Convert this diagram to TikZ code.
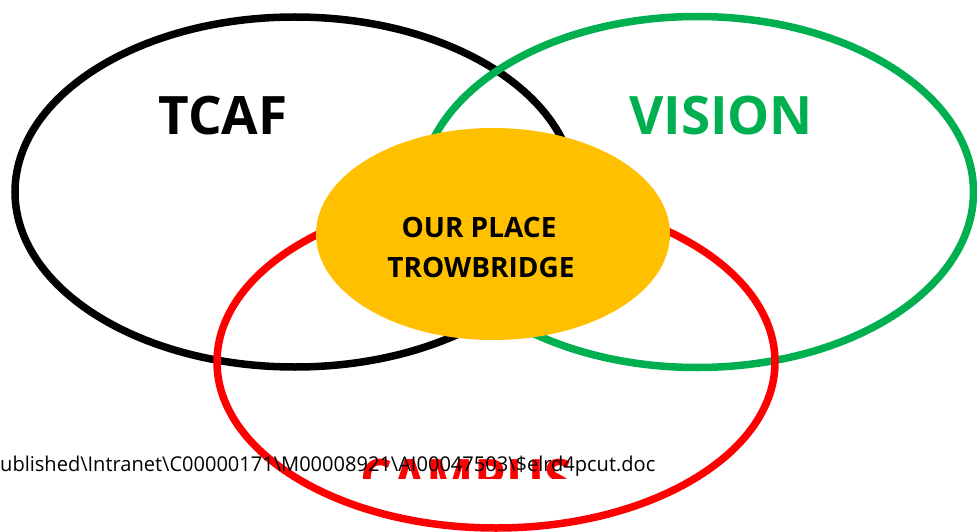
\documentclass[tikz,border=0pt]{standalone}
\usepackage{fontspec}
\setmainfont{Open Sans}
\usetikzlibrary{shapes.geometric}
\definecolor{vgreen}{HTML}{00B050}
\definecolor{vyellow}{HTML}{FFC000}
\definecolor{vred}{HTML}{FF0000}
\begin{document}
\begin{tikzpicture}[x=1pt,y=-1pt,
  ring/.style={ellipse, draw, line width=7.5pt, inner sep=0pt},
  bigword/.style={font=\fontsize{53}{60}\selectfont\bfseries, inner sep=0pt, anchor=base},
  placeword/.style={font=\fontsize{28}{34}\selectfont\bfseries, inner sep=0pt, anchor=base, text=black},
  pathword/.style={font=\fontsize{21}{24}\selectfont, inner sep=0pt, anchor=base west, text=black}]
\useasboundingbox (0,0) rectangle (977,532);
\fill[white] (0,0) rectangle (977,532);
\node[ring, draw=black, minimum width=560pt, minimum height=350pt] (tcafring) at (295,192) {};
\node[ring, draw=vgreen, minimum width=553pt, minimum height=351pt] (visionring) at (697,192) {};
\node[ring, draw=vred, minimum width=558pt, minimum height=332pt] (campusring) at (496,362) {};
\node[ellipse, fill=vyellow, inner sep=0pt, minimum width=354pt, minimum height=212pt] (placering) at (493,234) {};
\node[bigword, text=black] (tcaf) at (223,135) {TCAF};
\node[bigword, text=vgreen] (vision) at (721,135) {VISION};
\node[placeword] (placeone) at (479,237) {OUR PLACE};
\node[placeword] (placetwo) at (481,277) {TROWBRIDGE};
\begin{scope}
\clip (0,0) rectangle (977,478);
\node[bigword, text=vred] (campus) at (466,497) {\scalebox{0.95}[1]{CAMPUS}};
\end{scope}
\node[pathword] (docpath) at (0,471) {\resizebox{655pt}{15.5pt}{ublished\textbackslash Intranet\textbackslash C00000171\textbackslash M00008921\textbackslash AI00047503\textbackslash \$elrd4pcut.doc}};
\end{tikzpicture}
\end{document}
